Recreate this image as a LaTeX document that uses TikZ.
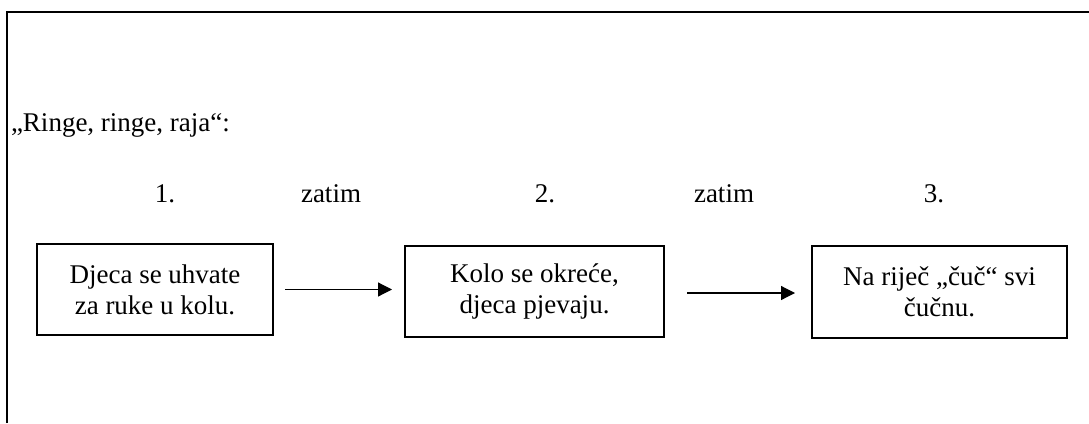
\documentclass[tikz,border=0pt]{standalone}
\usepackage{fontspec}
\setmainfont{Liberation Serif}
\usetikzlibrary{arrows.meta}
\begin{document}
\begin{tikzpicture}[x=1pt,y=-1pt,inner sep=0pt,outer sep=0pt,line width=1.2pt,
font=\fontsize{27}{31}\selectfont,
stepbox/.style={draw,rectangle,align=center,minimum height=91pt,line width=1.2pt},
steplabel/.style={anchor=base},
>={Triangle[length=14pt,width=14pt]}]
\useasboundingbox (0,0) rectangle (1089,423);
\draw (7,423) -- (7,12) -- (1089,12);
\draw (11,131) node[anchor=base west] (title) {„Ringe, ringe, raja“:};
\draw (165,202) node[steplabel] (n1) {1.};
\draw (331,202) node[steplabel] (then1) {zatim};
\draw (545,202) node[steplabel] (n2) {2.};
\draw (724,202) node[steplabel] (then2) {zatim};
\draw (934,202) node[steplabel] (n3) {3.};
\draw (155,289.5) node[stepbox,minimum width=236pt] (box1) {Djeca se uhvate\\za ruke u kolu.};
\draw (534.5,291.5) node[stepbox,minimum width=259pt] (box2) {Kolo se okreće,\\djeca pjevaju.};
\draw (939.5,292) node[stepbox,minimum width=255pt,minimum height=92pt] (box3) {Na riječ „čuč“ svi\\čučnu.};
\draw[->,shorten <=12pt,shorten >=13pt] (box1.east) -- (box1.east -| box2.west);
\draw[->,shorten <=23pt,shorten >=17pt] (box2.east) ++(0,1.5) -- (box3.west |- 0,293);
\end{tikzpicture}
\end{document}
